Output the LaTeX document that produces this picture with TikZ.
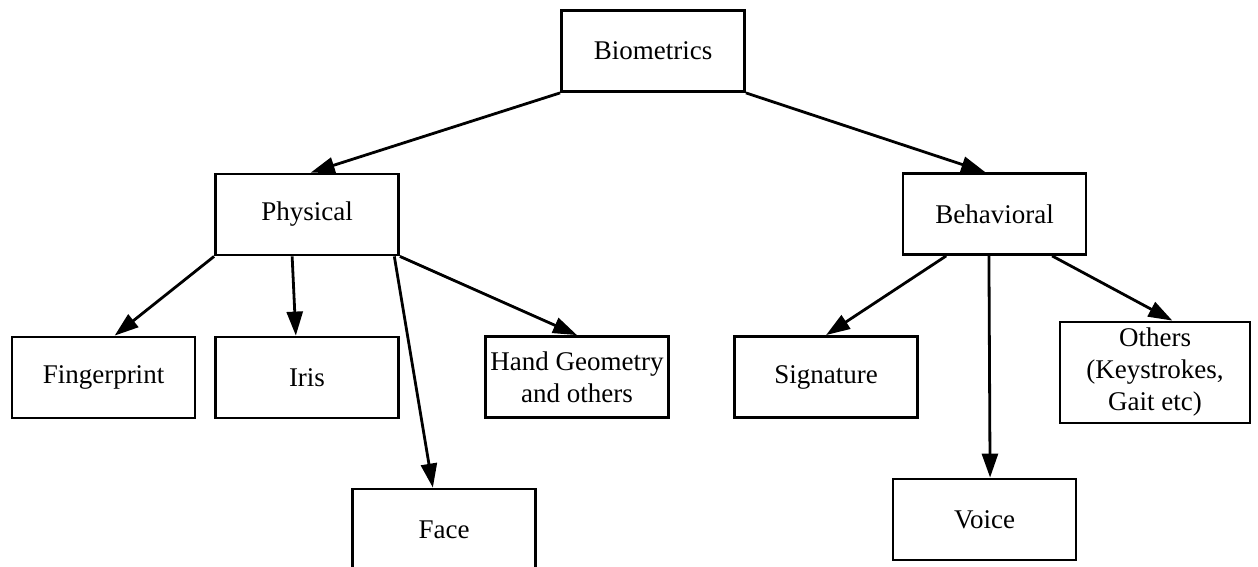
\documentclass[tikz,border=0pt]{standalone}
\usepackage{fontspec}
\setmainfont{Liberation Serif}
\usetikzlibrary{arrows.meta,calc}
\begin{document}
\begin{tikzpicture}[x=1pt,y=-1pt,
  box/.style={draw, line width=2.8pt, minimum width=183pt, minimum height=81pt,
    inner sep=0pt, align=center, font=\fontsize{27}{32}\selectfont},
  arr/.style={line width=2.8pt, -{Triangle[length=24pt,width=16pt]}}]
\useasboundingbox (0,0) rectangle (1258,567);

% nodes
\node[box] (bio)    at (653,51)     {Biometrics};
\node[box] (phys)   at (307,214.5)  {Physical};
\node[box] (behav)  at (994.5,214)  {Behavioral};
\node[box] (finger) at (103.5,377.5){Fingerprint};
\node[box] (iris)   at (307,377.5)  {Iris};
\node[box] (hand)   at (577,377)    {Hand Geometry\\and others};
\node[box] (face)   at (444,529.5)  {Face};
\node[box] (sig)    at (826,377)    {Signature};
\node[box, minimum width=190pt, minimum height=101pt] (others) at (1155,372.5)
  {Others\\(Keystrokes,\\Gait etc)};
\node[box] (voice)  at (984.5,519.5){Voice};

% top level
\draw[arr] (bio.south west) -- ($(phys.north west)!0.52!(phys.north east)$);
\draw[arr] (bio.south east) -- ($(behav.north west)!0.45!(behav.north east)$);

% physical traits
\draw[arr] (phys.south west) -- ($(finger.north west)!0.56!(finger.north east)$);
\draw[arr] ($(phys.south west)!0.42!(phys.south east)$) -- ($(iris.north west)!0.44!(iris.north east)$);
\draw[arr] ($(phys.south west)!0.97!(phys.south east)$) -- ($(face.north west)!0.44!(face.north east)$);
\draw[arr] (phys.south east) -- (hand.north);

% behavioral traits
\draw[arr] ($(behav.south west)!0.24!(behav.south east)$) -- (sig.north);
\draw[arr] ($(behav.south west)!0.47!(behav.south east)$) -- ($(voice.north west)!0.53!(voice.north east)$);
\draw[arr] ($(behav.south west)!0.81!(behav.south east)$) -- ($(others.north west)!0.59!(others.north east)$);
\end{tikzpicture}
\end{document}
